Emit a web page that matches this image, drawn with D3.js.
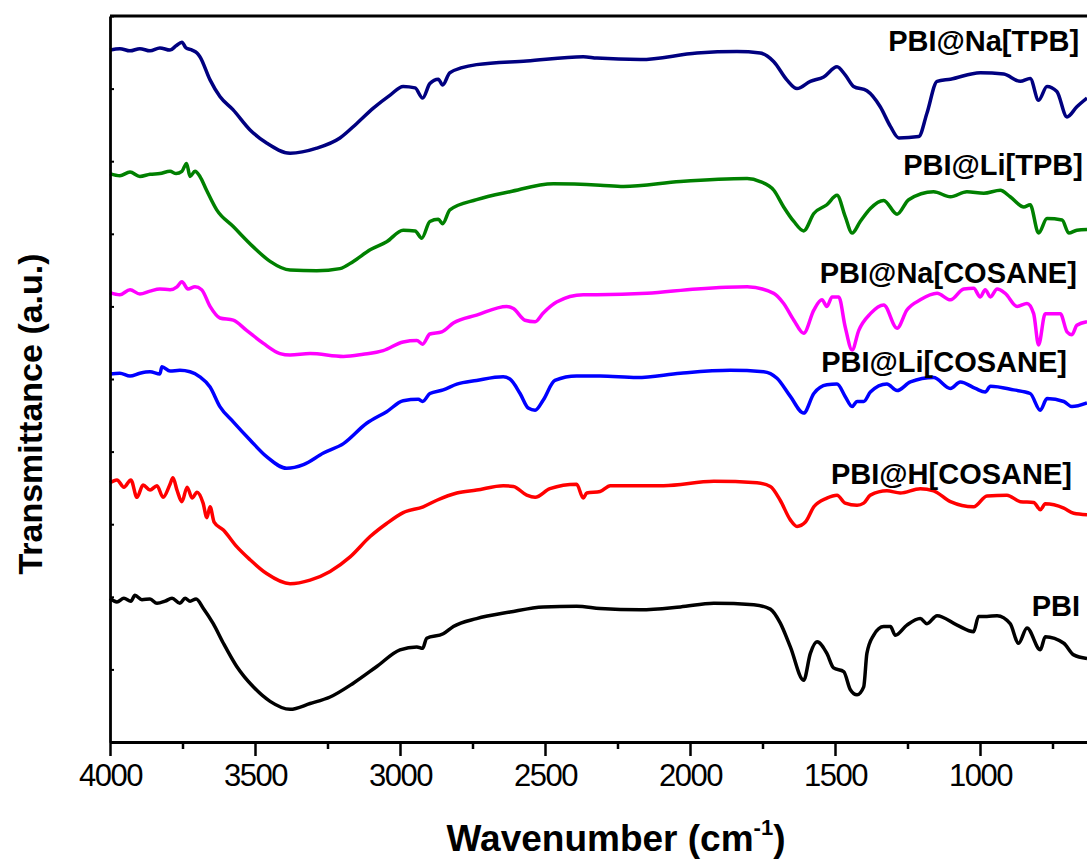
<!DOCTYPE html>
<html>
<head>
<meta charset="utf-8">
<script src="https://cdn.jsdelivr.net/npm/d3@7"></script>
<style>
  html, body { margin: 0; padding: 0; background: #fff; }
  svg { display: block; }
  text { font-family: "Liberation Sans", Arial, sans-serif; }
</style>
</head>
<body>
<svg id="chart" width="1087" height="859"></svg>
<script>
// ---------------- data (wavenumber cm-1, transmittance a.u.) ----------------
const seriesNames = ["PBI@Na[TPB]", "PBI@Li[TPB]", "PBI@Na[COSANE]", "PBI@Li[COSANE]", "PBI@H[COSANE]", "PBI"];

const naTPB = [[4000,95.3],[3966,95.5],[3931,95.2],[3897,95.5],[3862,95.2],[3828,95.6],[3793,95.3],[3772,95.9],[3752,96.4],[3738,95.6],[3717,95.3],[3700,94.9],[3690,94.4],[3655,91.2],[3621,88.9],[3576,87.1],[3517,84.3],[3460,82.5],[3379,81.1],[3287,81.8],[3207,83.2],[3149,85.2],[3092,87.3],[3034,89.1],[2989,90.3],[2948,90.1],[2922,88.7],[2897,90.7],[2868,91.3],[2853,90.5],[2828,92.2],[2736,93.3],[2563,93.8],[2368,94.4],[2321,94.2],[2171,94.0],[1976,94.9],[1838,95.1],[1758,94.9],[1711,93.7],[1666,91.2],[1631,90.0],[1585,91.0],[1539,91.6],[1493,93.0],[1465,91.9],[1436,90.3],[1390,89.7],[1344,87.5],[1309,84.8],[1280,83.2],[1211,83.4],[1183,86.6],[1148,91.0],[1102,91.3],[999,92.2],[918,92.0],[861,91.0],[827,91.4],[798,88.4],[769,90.3],[735,89.6],[700,86.1],[666,87.5],[631,88.7]];

const liTPB = [[4000,78.3],[3966,78.0],[3931,78.5],[3897,77.9],[3862,78.2],[3828,78.3],[3793,78.6],[3772,78.3],[3752,78.6],[3736,79.7],[3724,77.9],[3707,78.6],[3690,77.9],[3667,76.0],[3632,73.3],[3575,71.0],[3506,68.2],[3448,66.2],[3379,65.0],[3287,64.9],[3207,65.2],[3161,66.2],[3103,67.8],[3046,68.9],[2989,70.5],[2948,70.4],[2925,69.4],[2897,71.7],[2868,72.0],[2853,71.4],[2828,73.3],[2736,74.7],[2621,75.8],[2471,76.9],[2310,76.7],[2229,76.5],[2033,77.2],[1803,77.6],[1758,77.2],[1711,76.0],[1677,73.7],[1642,71.7],[1608,70.4],[1573,72.8],[1528,74.0],[1493,75.3],[1465,72.4],[1441,70.1],[1413,71.7],[1378,73.5],[1332,74.6],[1286,72.7],[1246,74.7],[1160,75.8],[1102,75.1],[1045,75.8],[987,75.6],[930,76.0],[896,75.1],[849,73.7],[827,74.0],[798,70.1],[769,72.1],[717,71.9],[694,70.1],[666,70.5],[631,70.6]];

const naCOSANE = [[4000,61.9],[3966,61.6],[3931,62.3],[3897,61.7],[3862,62.1],[3828,62.4],[3793,62.3],[3769,62.7],[3752,63.4],[3731,62.4],[3707,62.7],[3684,62.3],[3655,60.0],[3621,58.4],[3575,58.1],[3529,56.7],[3471,54.9],[3414,53.5],[3379,53.3],[3310,53.5],[3195,53.1],[3127,53.4],[3058,53.9],[2989,55.1],[2942,55.3],[2922,54.8],[2897,56.2],[2856,56.5],[2816,57.7],[2736,58.8],[2632,60.0],[2609,59.7],[2569,58.1],[2534,57.9],[2506,59.1],[2460,60.6],[2368,61.6],[2321,61.6],[2148,61.8],[1976,62.4],[1803,62.7],[1711,61.8],[1677,60.4],[1642,58.1],[1608,56.3],[1573,59.5],[1545,60.9],[1528,60.0],[1510,61.3],[1487,61.3],[1465,57.2],[1441,54.0],[1418,56.7],[1378,59.0],[1332,60.2],[1286,57.0],[1252,59.5],[1206,60.9],[1148,61.8],[1102,60.9],[1056,62.4],[1022,62.5],[999,61.3],[982,62.3],[964,61.3],[941,62.4],[913,61.8],[872,60.0],[838,60.4],[815,59.0],[798,54.7],[775,59.0],[723,59.0],[700,56.5],[683,56.1],[666,57.4],[631,57.9]];

const liCOSANE = [[4000,50.7],[3966,50.8],[3931,50.4],[3897,50.8],[3862,51.0],[3828,50.7],[3821,51.7],[3793,51.1],[3759,51.2],[3724,51.0],[3690,50.3],[3655,48.9],[3621,46.2],[3575,44.1],[3517,41.6],[3460,39.3],[3391,37.7],[3333,38.2],[3264,39.8],[3195,41.1],[3115,43.9],[3046,45.5],[2989,47.0],[2937,47.2],[2922,46.9],[2897,48.0],[2851,48.5],[2804,49.3],[2736,49.8],[2644,50.3],[2621,50.0],[2586,48.0],[2558,46.0],[2534,45.7],[2506,47.1],[2466,49.8],[2391,50.4],[2310,50.4],[2183,50.2],[2033,50.8],[1861,51.2],[1746,51.0],[1700,50.1],[1654,47.6],[1608,45.3],[1573,48.0],[1528,49.2],[1493,49.3],[1465,47.6],[1441,46.2],[1424,46.9],[1401,46.9],[1378,48.2],[1321,49.3],[1286,48.4],[1240,49.6],[1160,50.2],[1102,48.7],[1068,49.6],[1016,48.7],[982,48.2],[964,49.0],[884,48.5],[827,48.0],[792,45.7],[769,47.3],[711,46.9],[683,46.2],[631,46.7]];

const hCOSANE = [[4000,35.7],[3976,36.1],[3952,35.1],[3928,36.1],[3907,33.7],[3886,35.4],[3862,34.7],[3838,35.3],[3817,33.7],[3793,35.5],[3783,36.4],[3769,34.7],[3752,33.1],[3734,35.1],[3717,33.6],[3700,34.4],[3679,32.9],[3666,30.9],[3655,32.4],[3641,30.3],[3609,29.2],[3563,26.9],[3517,25.1],[3460,23.2],[3379,21.8],[3310,22.3],[3241,23.5],[3172,25.5],[3103,28.3],[3046,30.1],[2989,31.6],[2920,32.4],[2873,33.3],[2804,34.3],[2736,34.7],[2644,35.3],[2609,35.2],[2563,34.0],[2534,33.7],[2483,34.9],[2391,35.5],[2368,33.6],[2356,34.3],[2310,34.5],[2275,35.3],[2091,35.3],[1918,35.9],[1769,35.7],[1723,35.2],[1689,33.3],[1654,30.6],[1631,29.7],[1602,30.3],[1573,32.4],[1528,33.6],[1493,34.0],[1465,32.9],[1424,32.6],[1401,32.9],[1378,34.0],[1321,34.6],[1275,34.3],[1206,34.9],[1160,34.6],[1102,33.1],[1022,32.4],[976,33.9],[907,34.0],[861,33.1],[815,33.0],[792,32.0],[775,32.8],[711,32.2],[677,31.5],[631,31.3]];

const pbi = [[4000,19.8],[3976,19.3],[3952,19.8],[3928,19.4],[3914,20.2],[3890,19.6],[3862,19.7],[3838,19.1],[3810,19.4],[3786,19.8],[3759,19.1],[3741,19.8],[3724,19.4],[3703,19.7],[3678,18.4],[3644,16.3],[3609,13.6],[3563,10.4],[3506,7.6],[3448,5.6],[3379,4.5],[3310,5.3],[3241,6.2],[3161,8.1],[3080,10.4],[3000,12.7],[2942,13.1],[2922,12.9],[2908,14.3],[2851,14.9],[2816,15.9],[2736,17.0],[2621,17.9],[2506,18.6],[2391,18.7],[2310,18.4],[2171,18.2],[2033,18.6],[1918,19.1],[1780,18.9],[1723,18.3],[1689,16.4],[1654,13.1],[1608,8.5],[1585,12.2],[1562,13.8],[1528,12.2],[1505,10.2],[1470,9.7],[1447,7.2],[1424,6.5],[1401,7.6],[1390,12.2],[1367,14.7],[1332,15.9],[1309,15.9],[1292,14.7],[1252,16.1],[1206,17.0],[1183,16.3],[1148,17.4],[1079,16.1],[1022,15.2],[1005,17.3],[976,17.3],[941,17.4],[896,16.3],[867,13.6],[838,15.7],[792,12.7],[775,14.5],[711,13.6],[677,12.0],[631,11.5]];

const seriesData = [naTPB, liTPB, naCOSANE, liCOSANE, hCOSANE, pbi];
const seriesColors = ["#000080", "#008000", "#ff00ff", "#0000ff", "#ff0000", "#000000"];
// label anchors (wavenumber, transmittance), right-aligned
const labelAnchors = [[658,95.2],[645,78.1],[666,63.2],[700,51.0],[683,35.6],[655,17.4]];

const xMajorTicks = [4000, 3500, 3000, 2500, 2000, 1500, 1000];
const xMinorTicks = [3750, 3250, 2750, 2250, 1750, 1250, 750];
const yTicks = [0,10,20,30,40,50,60,70,80,90,100];

// ---------------- layout ----------------
const svg = d3.select("#chart");
const plotLeft = 110, plotTop = 16, plotBottom = 742;
const x = d3.scaleLinear().domain([4000, 400]).range([plotLeft, plotLeft + 3600 * 0.29]);
const y = d3.scaleLinear().domain([0, 100]).range([plotBottom, plotTop]);

// curves
const line = d3.line().x(d => x(d[0])).y(d => y(d[1])).curve(d3.curveMonotoneX);
seriesData.forEach((s, i) => {
  svg.append("path").datum(s)
    .attr("d", line)
    .attr("fill", "none")
    .attr("stroke", seriesColors[i])
    .attr("stroke-width", 3.5)
    .attr("stroke-linejoin", "round");
});

// top frame line
svg.append("line").attr("x1", x(4000)).attr("x2", x(400)).attr("y1", plotTop).attr("y2", plotTop)
  .attr("stroke", "#000").attr("stroke-width", 2.8);

// x axis (major)
const gx = svg.append("g").attr("transform", `translate(0,${plotBottom})`)
  .call(d3.axisBottom(x).tickValues(xMajorTicks).tickFormat(d3.format("d"))
    .tickSize(14).tickSizeOuter(0).tickPadding(8));
gx.select(".domain").attr("stroke-width", 2.8);
gx.selectAll(".tick line").attr("stroke-width", 2.5);
gx.selectAll(".tick text").attr("font-size", 31).attr("letter-spacing", -1.5)
  .attr("font-family", "'Liberation Sans', Arial, sans-serif").attr("fill", "#000");

// x axis (minor)
const gxm = svg.append("g").attr("transform", `translate(0,${plotBottom})`)
  .call(d3.axisBottom(x).tickValues(xMinorTicks).tickSize(7).tickSizeOuter(0).tickFormat(""));
gxm.select(".domain").remove();
gxm.selectAll(".tick line").attr("stroke-width", 2.5);

// y axis (inward ticks, no labels)
const gy = svg.append("g").attr("transform", `translate(${plotLeft},0)`)
  .call(d3.axisLeft(y).tickValues(yTicks).tickSize(-4).tickSizeOuter(0).tickFormat(""));
gy.select(".domain").attr("stroke-width", 2.8);
gy.selectAll(".tick line").attr("stroke-width", 2);

// series labels
seriesNames.forEach((name, i) => {
  svg.append("text")
    .attr("x", x(labelAnchors[i][0])).attr("y", y(labelAnchors[i][1]))
    .attr("text-anchor", "end")
    .attr("font-size", 29).attr("font-weight", "bold")
    .text(name);
});

// x title
const xt = svg.append("text").attr("x", 616).attr("y", 851)
  .attr("text-anchor", "middle").attr("font-size", 37).attr("font-weight", "bold");
xt.append("tspan").text("Wavenumber (cm");
xt.append("tspan").attr("font-size", 22).attr("dy", -16).text("-1");
xt.append("tspan").attr("dy", 16).text(")");

// y title
svg.append("text")
  .attr("transform", "translate(42,414) rotate(-90)")
  .attr("text-anchor", "middle").attr("font-size", 34).attr("font-weight", "bold")
  .text("Transmittance (a.u.)");
</script>
</body>
</html>
